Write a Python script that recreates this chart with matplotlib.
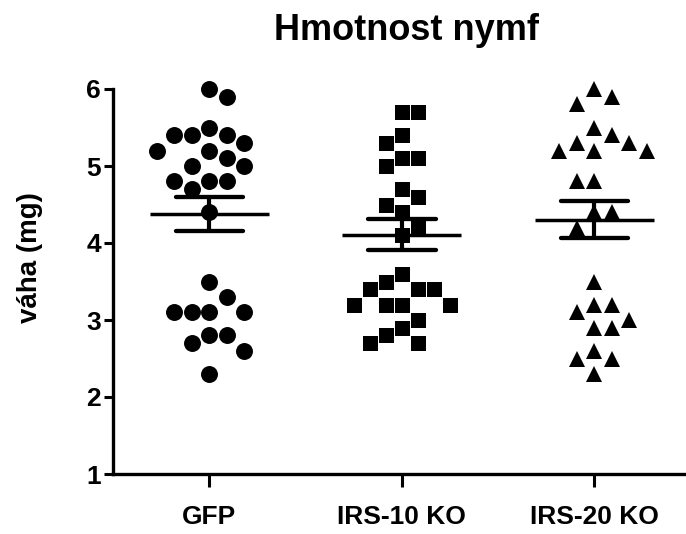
import numpy as np
import matplotlib
matplotlib.use("Agg")
import matplotlib.pyplot as plt

plt.rcParams['font.family'] = ['Liberation Sans', 'DejaVu Sans']
plt.rcParams['font.weight'] = 'bold'

# ---- data ----
categories = ["GFP", "IRS-10 KO", "IRS-20 KO"]
gfp = [6.0, 5.9, 5.5, 5.4, 5.4, 5.4, 5.3, 5.2, 5.2, 5.1, 5.0, 5.0, 4.8, 4.8, 4.8,
       4.7, 4.4, 3.5, 3.3, 3.1, 3.1, 3.1, 3.1, 2.8, 2.8, 2.7, 2.6, 2.3]
irs10 = [5.7, 5.7, 5.4, 5.3, 5.1, 5.1, 5.0, 4.7, 4.6, 4.5, 4.4, 4.2, 4.1,
         3.6, 3.5, 3.4, 3.4, 3.4, 3.2, 3.2, 3.2, 3.2, 3.0, 2.9, 2.8, 2.7, 2.7]
irs20 = [6.0, 5.9, 5.8, 5.5, 5.4, 5.3, 5.3, 5.2, 5.2, 5.2, 4.8, 4.8, 4.4, 4.4, 4.2,
         3.5, 3.2, 3.2, 3.1, 3.0, 2.9, 2.9, 2.6, 2.5, 2.5, 2.3]
means = [4.38, 4.11, 4.30]
sems = [0.22, 0.20, 0.24]
yticks = [1, 2, 3, 4, 5, 6]
title = "Hmotnost nymf"
ylabel = "váha (mg)"

# ---- layout ----
W, H = 686, 534
fig = plt.figure(figsize=(W / 100, H / 100), dpi=100)
ax_left, ax_bottom, ax_w, ax_h = 113, 60, 573, 385
ax = fig.add_axes([ax_left / W, ax_bottom / H, ax_w / W, ax_h / H])
xlim = (-0.5, 2.476)
ylim = (1, 6)
ax.set_xlim(*xlim)
ax.set_ylim(*ylim)
px_x = ax_w / (xlim[1] - xlim[0])
px_y = ax_h / (ylim[1] - ylim[0])


def swarm(values, hx, hy):
    """Row-style beeswarm with rectangular collision boxes (pixel sizes hx, hy)."""
    vals = np.asarray(values, dtype=float)
    order = np.argsort(-vals, kind="stable")
    xs = np.zeros(len(vals))
    placed = []
    toggle = 1
    for i in order:
        y = vals[i] * px_y
        cands = [0.0]
        for (qx, qy) in placed:
            if abs(y - qy) < hy - 1e-6:
                cands += [qx + hx, qx - hx]

        def ok(c):
            return all(not (abs(y - qy) < hy - 1e-6 and abs(c - qx) < hx - 1e-6)
                       for qx, qy in placed)
        valid = sorted(set(round(c, 6) for c in cands if ok(c)),
                       key=lambda c: (abs(c), -toggle * c))
        c = valid[0]
        if c != 0:
            toggle = -toggle
        xs[i] = c
        placed.append((c, y))
    return xs / px_x


groups = [gfp, irs10, irs20]
markers = ["o", "s", "^"]
msizes = [12.2, 10.8, 11.8]
box_x = [17.5, 16.0, 17.5]
box_y = [20.0, 20.0, 20.0]

for i, (vals, m, ms, bx, by) in enumerate(zip(groups, markers, msizes, box_x, box_y)):
    off = swarm(vals, bx, by)
    ax.plot(i + off, vals, linestyle="none", marker=m, markersize=ms,
            color="black", markeredgewidth=0, clip_on=False, zorder=3)

lw_line = 2.5
for i, (mu, se) in enumerate(zip(means, sems)):
    ax.hlines(mu, i - 0.31, i + 0.31, color="black", lw=lw_line, zorder=4,
              capstyle="butt")
    ax.vlines(i, mu - se, mu + se, color="black", lw=lw_line + 0.5, zorder=4)
    ax.hlines([mu - se, mu + se], i - 0.175, i + 0.175, color="black",
              lw=lw_line + 0.6, zorder=4, capstyle="round")

for s in ["top", "right"]:
    ax.spines[s].set_visible(False)
for s in ["left", "bottom"]:
    ax.spines[s].set_linewidth(2.4)
    ax.spines[s].set_capstyle("projecting")

ax.set_yticks(yticks)
ax.set_yticklabels([str(t) for t in yticks], fontsize=19, fontweight="bold")
ax.set_xticks(range(len(categories)))
ax.set_xticklabels(categories, fontsize=19, fontweight="bold")
ax.tick_params(axis="y", direction="out", length=6.5, width=2.2, pad=2)
ax.tick_params(axis="x", direction="out", length=9, width=2.2, pad=13)

fig.text(30 / W, 1 - 258 / H, ylabel, rotation=90, ha="center", va="center",
         fontsize=20, fontweight="bold")
fig.text(406 / W, 1 - 31 / H, title, ha="center", va="center",
         fontsize=26, fontweight="bold")

fig.savefig("out.png", dpi=100, facecolor="white")
